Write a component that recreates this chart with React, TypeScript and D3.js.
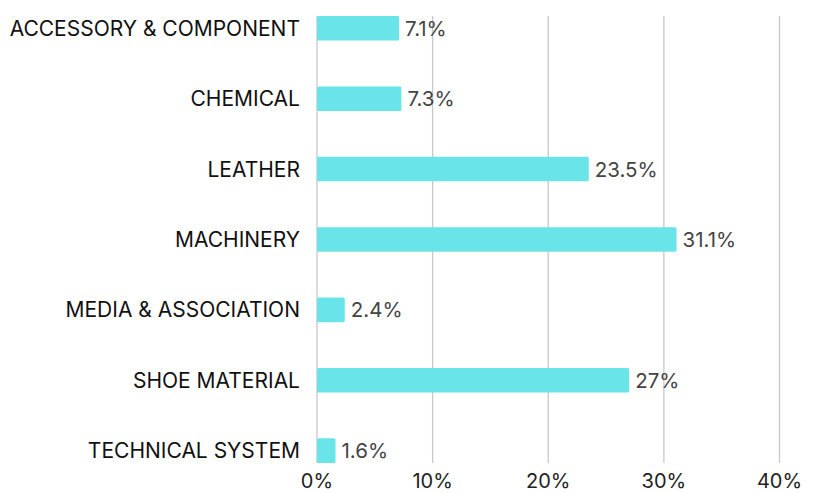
import React from "react";
import * as d3 from "d3";

const categories = [
  "ACCESSORY & COMPONENT",
  "CHEMICAL",
  "LEATHER",
  "MACHINERY",
  "MEDIA & ASSOCIATION",
  "SHOE MATERIAL",
  "TECHNICAL SYSTEM",
];
const values = [7.1, 7.3, 23.5, 31.1, 2.4, 27, 1.6];
const valueLabels = ["7.1%", "7.3%", "23.5%", "31.1%", "2.4%", "27%", "1.6%"];
const ticks = [0, 10, 20, 30, 40];

const W = 816;
const H = 493;
const FONT = "Inter, 'Open Sans', sans-serif";

export default function App() {
  const x = d3.scaleLinear().domain([0, 40]).range([317, 779.5]);
  const y = d3.scalePoint<string>().domain(categories).range([28.3, 450.6]);
  const barH = 24.6;
  const gridTop = 16;
  const gridBottom = 463;

  return (
    <svg
      width={W}
      height={H}
      style={{ position: "absolute", left: 0, top: 0, background: "#fff" }}
    >
      {ticks.map((t) => (
        <line
          key={"g" + t}
          x1={x(t)}
          x2={x(t)}
          y1={gridTop}
          y2={gridBottom}
          stroke="#c8c8c8"
          strokeWidth={1.3}
        />
      ))}
      {categories.map((c, i) => (
        <g key={c}>
          <rect
            x={x(0)}
            y={(y(c) as number) - barH / 2}
            width={x(values[i]) - x(0)}
            height={barH}
            rx={1.5}
            fill="#69E4E9"
          />
          <text
            x={x(0) - 17}
            y={y(c) as number}
            textAnchor="end"
            dominantBaseline="central"
            fontFamily={FONT}
            fontSize={21}
            fill="#111"
          >
            {c}
          </text>
          <text
            x={x(values[i]) + 6}
            y={y(c) as number}
            dominantBaseline="central"
            fontFamily={FONT}
            fontSize={20.5}
            fill="#444"
          >
            {valueLabels[i]}
          </text>
        </g>
      ))}
      {ticks.map((t) => (
        <text
          key={"t" + t}
          x={x(t)}
          y={488}
          textAnchor="middle"
          fontFamily={FONT}
          fontSize={20}
          fill="#222"
        >
          {t + "%"}
        </text>
      ))}
    </svg>
  );
}
